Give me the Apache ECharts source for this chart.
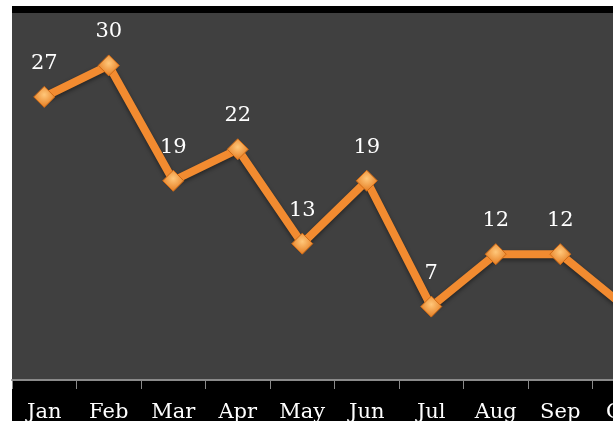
<!DOCTYPE html>
<html>
<head>
<meta charset="utf-8">
<script src="https://cdn.jsdelivr.net/npm/echarts@6/dist/echarts.min.js"></script>
<style>
html,body{margin:0;padding:0;background:#ffffff;}
#c{width:613px;height:421px;}
</style>
</head>
<body>
<div id="c"></div>
<script>
var categories = ['Jan','Feb','Mar','Apr','May','Jun','Jul','Aug','Sep','Oct'];
var values = [27,30,19,22,13,19,7,12,12,7];

var chart = echarts.init(document.getElementById('c'), null, {renderer:'canvas'});
var fontFam = '"DejaVu Serif", "Liberation Serif", serif';
chart.setOption({
  backgroundColor: '#ffffff',
  animation: false,
  graphic: [
    {type:'rect', z:-10, shape:{x:12, y:6, width:601, height:415}, style:{fill:'#000000'}}
  ],
  grid: {
    left: 12, top: 13, width: 645, height: 367,
    outerBoundsMode: 'none', containLabel: false,
    show: true, backgroundColor: '#404040', borderWidth: 0
  },
  xAxis: {
    type: 'category',
    data: categories,
    boundaryGap: true,
    axisLine: {show:true, lineStyle:{color:'#8a8a8a', width:2}},
    axisTick: {show:true, length:9, lineStyle:{color:'#8a8a8a', width:1}},
    axisLabel: {color:'#ffffff', fontFamily: fontFam, fontSize: 21, margin: 22}
  },
  yAxis: {
    type: 'value', min: 0, max: 35, show: false,
    splitLine: {show:false}
  },
  series: [{
    type: 'line',
    data: values,
    symbol: 'diamond',
    symbolSize: 21,
    lineStyle: {color:'#f28b30', width: 8, shadowColor:'rgba(0,0,0,0.45)', shadowBlur:4, shadowOffsetY:2},
    itemStyle: {
      color: {type:'radial', x:0.5, y:0.4, r:0.6, colorStops:[{offset:0,color:'#ffc77a'},{offset:1,color:'#e47a1e'}]},
      borderColor: '#d06a15', borderWidth: 1
    },
    label: {show:true, position:'top', distance: 12, color:'#ffffff', fontFamily: fontFam, fontSize: 21}
  }]
});
</script>
</body>
</html>
